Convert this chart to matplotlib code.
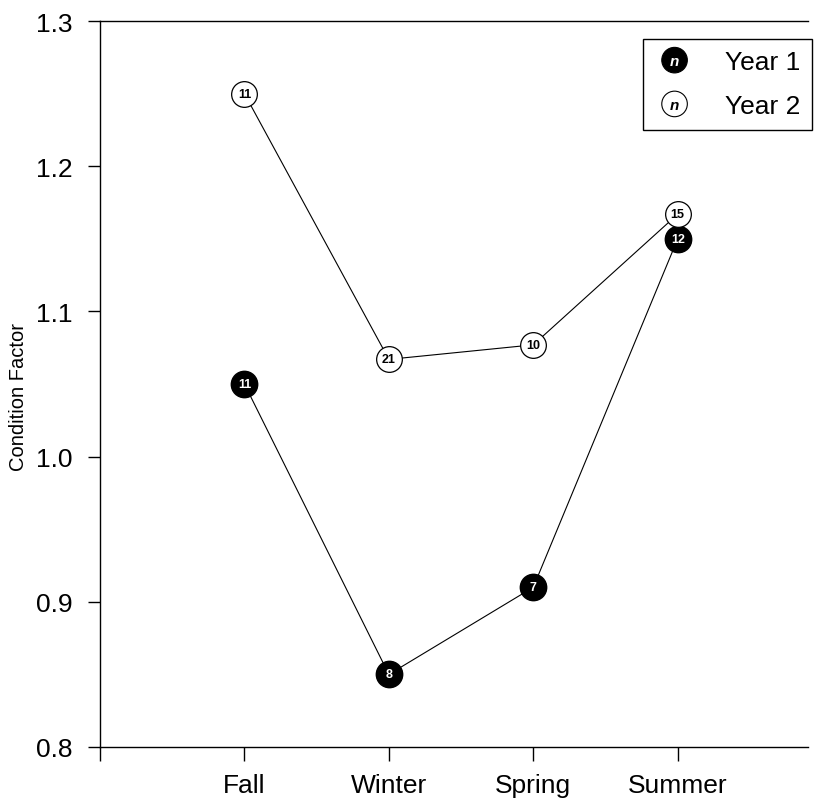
import matplotlib.pyplot as plt
from matplotlib.legend_handler import HandlerBase
from matplotlib.patches import Circle
from matplotlib.text import Text

plt.rcParams['font.family'] = ['Liberation Sans', 'DejaVu Sans']

# Data
seasons = ["Fall", "Winter", "Spring", "Summer"]
year1 = [1.05, 0.85, 0.91, 1.15]
year2 = [1.25, 1.067, 1.077, 1.167]
n_year1 = [11, 8, 7, 12]
n_year2 = [11, 21, 10, 15]

xpos = list(range(1, len(seasons) + 1))


# Legend handle: a circle with an italic n inside
class NHandler(HandlerBase):
    def __init__(self, face, textcolor):
        super().__init__()
        self.face = face
        self.textcolor = textcolor

    def create_artists(self, legend, orig_handle, xdescent, ydescent,
                       width, height, fontsize, trans):
        cx = width / 2 - xdescent
        cy = height / 2 - ydescent
        circ = Circle((cx, cy), 9.2, facecolor=self.face, edgecolor='black',
                      linewidth=0.8, transform=trans)
        txt = Text(cx, cy - 0.5, 'n', color=self.textcolor, fontsize=11,
                   fontstyle='italic', fontweight='bold',
                   ha='center', va='center', transform=trans)
        return [circ, txt]


fig = plt.figure(figsize=(8.21, 8.03), dpi=100)
ax = fig.add_axes([0.1218, 0.0685, 0.862, 0.904])

l1, = ax.plot(xpos, year1, color='black', lw=0.8, marker='o', markersize=19,
              markerfacecolor='black', markeredgecolor='black', zorder=2)
l2, = ax.plot(xpos, year2, color='black', lw=0.8, marker='o', markersize=18.5,
              markerfacecolor='white', markeredgecolor='black',
              markeredgewidth=0.9, zorder=2)

for x, y, n in zip(xpos, year1, n_year1):
    ax.text(x, y, str(n), color='white', fontsize=9, fontweight='bold',
            ha='center', va='center', zorder=3)
for x, y, n in zip(xpos, year2, n_year2):
    ax.text(x, y, str(n), color='black', fontsize=9, fontweight='bold',
            ha='center', va='center', zorder=3)

ax.set_xlim(0, 4.9)
ax.set_ylim(0.8, 1.3)
ax.set_xticks([0] + xpos)
ax.set_xticklabels([""] + seasons, fontsize=19)
ax.set_yticks([0.8, 0.9, 1.0, 1.1, 1.2, 1.3])
ax.set_yticklabels(["0.8", "0.9", "1.0", "1.1", "1.2", "1.3"], fontsize=19)
ax.tick_params(axis='x', direction='out', length=10, width=1, pad=9)
ax.tick_params(axis='y', direction='out', length=9, width=1, pad=11)
ax.set_ylabel("Condition Factor", fontsize=14.5)
ax.yaxis.set_label_coords(-0.102, 0.4835)

ax.spines['right'].set_visible(False)
for s in ['left', 'bottom', 'top']:
    ax.spines[s].set_linewidth(1)

leg = ax.legend([l1, l2], ["Year 1", "Year 2"], loc='upper right',
                bbox_to_anchor=(1.006, 0.976), fontsize=19, frameon=True,
                fancybox=False, edgecolor='black', framealpha=1,
                handler_map={l1: NHandler('black', 'white'),
                             l2: NHandler('white', 'black')},
                handlelength=1.5, handletextpad=1.15, labelspacing=0.75,
                borderpad=0.45, borderaxespad=0)
leg.get_frame().set_linewidth(1)

fig.savefig("out.png", dpi=100)
